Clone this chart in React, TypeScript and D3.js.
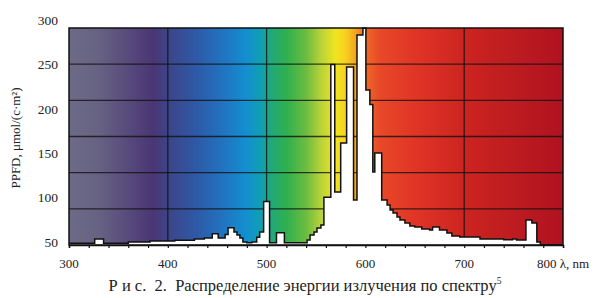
import React, { useEffect, useRef } from 'react'
import * as d3 from 'd3'

// spectrum, nm -> PPFD (step-like)
const wavelengths = [300, 326, 335, 360, 382, 407, 427, 437, 445, 451, 458, 461, 467, 470, 473, 476, 480, 485, 490, 493, 497, 503, 510, 518, 541, 544, 548, 551, 555, 558, 565, 569, 575, 581, 588, 591.5, 597.5, 600.5, 604.5, 607.5, 609.5, 616.5, 622, 625, 628, 632, 635, 640, 645, 650, 657, 665, 668, 675, 682.5, 687.5, 695.5, 716, 740, 749, 753, 762.5, 768.5, 773.5, 777, 800]
const ppfd = [52, 57, 52, 53.5, 54.5, 55.5, 57, 58, 63, 58, 62, 70, 65, 61.5, 58, 53.5, 52.5, 53.5, 59, 65, 100, 52.5, 64, 52.5, 55.8, 61.5, 65, 69.6, 73, 105, 258, 111, 167.5, 255, 101.8, 292, 300, 228.6, 212, 134, 156, 101.8, 96, 90.3, 87, 82.3, 78.8, 75.3, 72, 70.7, 68.4, 67.3, 70.7, 67.3, 63.8, 60.4, 59.2, 57, 56, 57, 55.8, 78.8, 75.3, 53.5, 50, 50]

const xTicks = [300, 400, 500, 600, 700, 800]
const yTicks = [50, 100, 150, 200, 250, 300]
const caption = 'Р и с.  2.  Распределение энергии излучения по спектру'

// background rainbow
const spectrumStops: [number, string][] = [
  [300, '#6d6a86'], [330, '#676283'], [360, '#574a7c'], [385, '#4a3674'],
  [400, '#3d4488'], [430, '#2d5aa8'], [460, '#1f78c4'], [480, '#1290d0'],
  [495, '#10a0b0'], [505, '#22a878'], [520, '#2fb050'], [540, '#6cbc40'],
  [555, '#b8d23a'], [570, '#f2e41e'], [580, '#f8d020'], [590, '#f5a41e'],
  [600, '#ef6a26'], [615, '#e84828'], [650, '#e03526'], [700, '#cc2420'],
  [760, '#ba1a20'], [800, '#b01220'],
]

const W = 603, H = 298
const L = 69, R = 563, T = 28, B = 245
const font = "'Liberation Serif', 'Times New Roman', 'DejaVu Serif', serif"

export default function App() {
  const ref = useRef<SVGSVGElement>(null)

  useEffect(() => {
    const svg = d3.select(ref.current)
    svg.selectAll('*').remove()

    const x = d3.scaleLinear().domain([300, 800]).range([L, R])
    const y = d3.scaleLinear().domain([50, 300]).range([B, T])
    // labels in the scan do not sit on the grid lines
    const yLab = d3.scaleLinear().domain([50, 300]).range([242, 20])

    const grad = svg.append('defs').append('linearGradient')
      .attr('id', 'spec')
      .attr('gradientUnits', 'userSpaceOnUse')
      .attr('x1', x(300)).attr('x2', x(800)).attr('y1', 0).attr('y2', 0)
    grad.selectAll('stop').data(spectrumStops).enter().append('stop')
      .attr('offset', d => (d[0] - 300) / 500)
      .attr('stop-color', d => d[1])

    svg.append('rect')
      .attr('x', L).attr('y', T).attr('width', R - L).attr('height', B - T)
      .attr('fill', 'url(#spec)')

    // grid: 6 equal bands, verticals every 100 nm
    const g = svg.append('g').attr('stroke', '#111').attr('stroke-opacity', 0.8).attr('stroke-width', 1.3)
    d3.range(1, 6).forEach(i => {
      const v = 50 + (i * 250) / 6
      g.append('line').attr('x1', L).attr('x2', R).attr('y1', y(v)).attr('y2', y(v))
    })
    ;[400, 500, 600, 700].forEach(v => {
      g.append('line').attr('x1', x(v)).attr('x2', x(v)).attr('y1', T).attr('y2', B)
    })

    const data = wavelengths.map((w, i) => [w, ppfd[i]] as [number, number])
    const area = d3.area<[number, number]>()
      .x(d => x(d[0])).y0(y(50)).y1(d => y(d[1]))
      .curve(d3.curveStepAfter)
    const line = d3.line<[number, number]>()
      .x(d => x(d[0])).y(d => y(d[1]))
      .curve(d3.curveStepAfter)

    svg.append('path').datum(data).attr('d', area).attr('fill', '#fff')
    svg.append('path').datum(data).attr('d', line)
      .attr('fill', 'none').attr('stroke', '#111').attr('stroke-width', 1.5)

    svg.append('rect')
      .attr('x', L).attr('y', T).attr('width', R - L).attr('height', B - T)
      .attr('fill', 'none').attr('stroke', '#111').attr('stroke-width', 1.5)

    // bottom axis with 20 nm minor ticks
    const xAx = svg.append('g').attr('transform', `translate(0,${B})`)
      .call(d3.axisBottom(x).tickValues(d3.range(300, 801, 20)).tickSize(3).tickFormat(() => ''))
    xAx.select('.domain').attr('stroke', '#111').attr('stroke-width', 1.5)
    xAx.selectAll('.tick line').attr('stroke', '#111').attr('stroke-width', 1.2)

    const xl = svg.append('g').style('font-family', font).style('font-size', '13px').attr('fill', '#222')
    xl.selectAll('text').data(xTicks).enter().append('text')
      .attr('x', d => (d === 800 ? x(d) - 26 : x(d)))
      .attr('y', 268)
      .attr('text-anchor', d => (d === 800 ? 'start' : 'middle'))
      .text(d => (d === 800 ? '800 λ, nm' : String(d)))

    const yAx = svg.append('g').attr('transform', `translate(${L},0)`)
      .call(d3.axisLeft(yLab).tickValues(yTicks).tickSize(0).tickPadding(11))
    yAx.select('.domain').remove()
    yAx.selectAll('text').style('font-family', font).style('font-size', '13.5px').attr('fill', '#222')

    svg.append('text')
      .attr('transform', 'translate(20,138) rotate(-90)')
      .attr('text-anchor', 'middle')
      .style('font-family', font).style('font-size', '13px').attr('fill', '#222')
      .text('PPFD, μmol/(c·m²)')

    const cap = svg.append('text')
      .attr('x', 305).attr('y', 291)
      .attr('text-anchor', 'middle')
      .style('font-family', font).style('font-size', '16.5px').attr('fill', '#222')
      .style('white-space', 'pre')
    cap.append('tspan').text(caption)
    cap.append('tspan').style('font-size', '9.5px').attr('dy', -7).text('5')
  }, [])

  return (
    <svg ref={ref} width={W} height={H} style={{ position: 'absolute', left: 0, top: 0, background: '#fff' }} />
  )
}
